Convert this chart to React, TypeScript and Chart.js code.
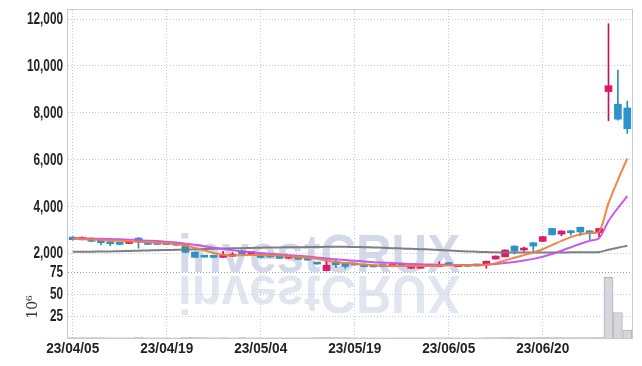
import React, { useEffect, useRef } from 'react';
import { Chart, registerables } from 'chart.js';
Chart.register(...registerables);

const dates = [
  '23/04/05','23/04/06','23/04/07','23/04/10','23/04/11','23/04/12','23/04/13','23/04/14','23/04/17','23/04/18',
  '23/04/19','23/04/20','23/04/21','23/04/24','23/04/25','23/04/26','23/04/27','23/04/28','23/05/02','23/05/03',
  '23/05/04','23/05/08','23/05/09','23/05/10','23/05/11','23/05/12','23/05/15','23/05/16','23/05/17','23/05/18',
  '23/05/19','23/05/22','23/05/23','23/05/24','23/05/25','23/05/26','23/05/30','23/05/31','23/06/01','23/06/02',
  '23/06/05','23/06/07','23/06/08','23/06/09','23/06/12','23/06/13','23/06/14','23/06/15','23/06/16','23/06/19',
  '23/06/20','23/06/21','23/06/22','23/06/23','23/06/26','23/06/27','23/06/28','23/06/29','23/06/30','23/07/03',
];

const opens = [
  2680,2580,2630,2550,2480,2440,2410,2640,2440,2420,
  2400,2390,2290,2040,1855,1870,1815,1865,2085,1970,
  1915,1900,1870,1780,1765,1760,1565,1250,1645,1590,
  1515,1520,1450,1445,1425,1520,1350,1350,1425,1420,
  1590,1420,1455,1510,1520,1745,1840,2300,2130,2440,
  2500,3050,2810,2950,3100,2950,2870,8900,8360,8200,
];
const highs = [
  2700,2690,2640,2560,2490,2450,2490,2660,2450,2430,
  2410,2400,2330,2050,1860,1880,2070,2020,2100,2060,
  1930,1910,1880,1850,1770,1770,1570,1750,1715,1600,
  1530,1530,1460,1450,1460,1530,1460,1460,1450,1630,
  1600,1510,1460,1520,1660,1880,2140,2310,2260,2450,
  2710,3060,2950,2960,3110,2960,3060,11800,9820,8490,
];
const lows = [
  2550,2560,2480,2350,2310,2350,2400,2210,2360,2360,
  2350,2320,2010,1800,1820,1800,1810,1850,1960,1960,
  1800,1820,1760,1770,1720,1690,1520,1235,1390,1350,
  1480,1410,1400,1410,1420,1440,1345,1345,1420,1415,
  1480,1415,1420,1440,1345,1740,1835,1960,2080,2040,
  2490,2770,2740,2760,2740,2580,2700,7650,7680,7110,
];
const closes = [
  2570,2660,2500,2440,2400,2370,2470,2470,2370,2370,
  2360,2340,2030,1815,1825,1815,1885,1895,1970,2040,
  1815,1830,1770,1840,1730,1700,1530,1480,1500,1430,
  1490,1420,1410,1420,1455,1450,1450,1450,1445,1510,
  1490,1500,1430,1450,1650,1870,2130,2085,2165,2300,
  2700,2780,2940,2870,2900,2840,3050,9150,7720,7310,
];
const volumes = [
  0.6,0.4,0.5,0.4,0.3,0.3,0.3,0.7,0.3,0.2,
  0.2,0.2,0.8,0.9,0.4,0.3,0.5,0.3,0.4,0.3,
  0.3,0.2,0.3,0.2,0.2,0.2,0.4,0.8,0.5,0.4,
  0.2,0.2,0.2,0.1,0.1,0.2,0.2,0.2,0.1,0.3,
  0.2,0.2,0.1,0.1,0.5,0.6,0.9,0.7,0.4,0.6,
  0.9,1.1,0.6,0.5,0.6,0.5,0.8,69,29,9,
];
const ma5 = [
  2600,2590,2575,2560,2540,2520,2500,2480,2460,2440,
  2420,2390,2320,2220,2110,2000,1930,1900,1910,1920,
  1920,1910,1890,1860,1830,1800,1750,1680,1620,1570,
  1540,1510,1480,1460,1450,1445,1445,1445,1450,1460,
  1470,1480,1480,1480,1500,1570,1680,1800,1910,2020,
  2160,2340,2520,2680,2800,2860,2910,4130,5120,6040,
];
const ma10 = [
  2640,2630,2620,2610,2600,2585,2570,2555,2530,2510,
  2480,2450,2400,2350,2290,2230,2170,2120,2080,2040,
  2000,1970,1940,1910,1880,1850,1810,1770,1730,1700,
  1670,1640,1610,1590,1570,1550,1530,1520,1510,1500,
  1495,1490,1490,1490,1500,1530,1570,1620,1680,1750,
  1840,1960,2100,2250,2400,2520,2640,3370,3925,4430,
];
const ma60 = [
  2050,2055,2060,2065,2070,2080,2090,2100,2110,2120,
  2130,2140,2150,2160,2170,2180,2190,2200,2210,2220,
  2230,2235,2240,2245,2250,2255,2260,2265,2265,2265,
  2260,2250,2240,2225,2210,2195,2180,2165,2150,2130,
  2110,2090,2070,2055,2040,2030,2025,2020,2020,2020,
  2020,2025,2025,2030,2030,2035,2040,2140,2230,2310,
];
const priceTicks = [2000, 4000, 6000, 8000, 10000, 12000];
const volumeTicks = [25, 50, 75];
const dateTickEvery = 10;

const UP = '#e2176b';
const DOWN = '#2a94c8';
const UP_WICK = '#c4125c';
const DOWN_WICK = '#2a8cc0';
const GRID = '#c6cce0';
const LABEL_FONT = '"Liberation Sans", Arial, sans-serif';

function drawNarrow(ctx: any, text: string, x: number, y: number, size: number, sx: number, align: 'right' | 'center') {
  ctx.save();
  ctx.font = `bold ${size}px ${LABEL_FONT}`;
  ctx.fillStyle = '#222';
  ctx.textBaseline = 'middle';
  ctx.textAlign = align;
  ctx.translate(x, y);
  ctx.scale(sx, 1);
  ctx.fillText(text, 0, 0);
  ctx.restore();
}

const framePlugin = {
  id: 'frameWm',
  beforeDatasetsDraw(chart: any) {
    const { ctx, chartArea } = chart;
    const pz = chart.scales.y;
    ctx.save();
    ctx.font = 'bold 54px "Liberation Sans", Arial, sans-serif';
    const text = 'investCRUX';
    const w = ctx.measureText(text).width;
    const baseY = pz.bottom;
    ctx.translate(178, baseY);
    ctx.scale(282 / w, 1);
    ctx.textBaseline = 'alphabetic';
    ctx.fillStyle = 'rgba(200,207,228,0.8)';
    ctx.fillText(text, 0, 0);
    ctx.scale(1, -1);
    ctx.fillStyle = 'rgba(200,207,228,0.55)';
    ctx.fillText(text, 0, -4);
    ctx.restore();

    ctx.save();
    ctx.strokeStyle = '#c8cad4';
    ctx.lineWidth = 1;
    ctx.strokeRect(chartArea.left - 0.5, chartArea.top - 0.5, chartArea.right - chartArea.left + 1, chartArea.bottom - chartArea.top + 1);
    ctx.restore();
  },
  afterDraw(chart: any) {
    const { ctx, chartArea } = chart;
    const py = chart.scales.y;
    const vy = chart.scales.yv;
    const xs = chart.scales.x;
    // measure scale factors
    ctx.save();
    ctx.font = `bold 16px ${LABEL_FONT}`;
    const syk = 36 / ctx.measureText('12,000').width;
    ctx.font = `bold 15px ${LABEL_FONT}`;
    const sxk = 53 / ctx.measureText('23/04/05').width;
    ctx.restore();
    const rightX = chartArea.left - 5;
    priceTicks.forEach((v) => {
      drawNarrow(ctx, v.toLocaleString('en-US'), rightX, py.getPixelForValue(v) + 1, 16, syk, 'right');
    });
    volumeTicks.forEach((v) => {
      drawNarrow(ctx, String(v), rightX, vy.getPixelForValue(v) + 1, 16, syk, 'right');
    });
    dates.forEach((d, i) => {
      if (i % dateTickEvery === 0) {
        drawNarrow(ctx, d, xs.getPixelForValue(i), chartArea.bottom + 11, 15, sxk, 'center');
      }
    });
    ctx.save();
    ctx.translate(33, (vy.top + vy.bottom) / 2 + 2);
    ctx.rotate(-Math.PI / 2);
    ctx.font = '14px "DejaVu Serif", serif';
    ctx.fillStyle = '#333';
    ctx.textAlign = 'center';
    ctx.textBaseline = 'middle';
    ctx.fillText('10⁶', 0, 0);
    ctx.restore();
  },
};

export default function App() {
  const ref = useRef<HTMLCanvasElement>(null);
  useEffect(() => {
    if (!ref.current) return;
    const up = closes.map((c, i) => c >= opens[i]);
    const chart = new Chart(ref.current, {
      type: 'bar',
      data: {
        labels: dates,
        datasets: [
          {
            type: 'line', label: 'MA5', data: ma5, yAxisID: 'y', borderColor: 'rgba(240,128,60,0.95)',
            borderWidth: 2, pointRadius: 0, tension: 0.3, order: 0,
          } as any,
          {
            type: 'line', label: 'MA10', data: ma10, yAxisID: 'y', borderColor: 'rgba(200,80,232,0.95)',
            borderWidth: 2, pointRadius: 0, tension: 0.3, order: 0,
          },
          {
            type: 'line', label: 'MA60', data: ma60, yAxisID: 'y', borderColor: 'rgba(120,120,124,0.95)',
            borderWidth: 2, pointRadius: 0, tension: 0.3, order: 0,
          },
          {
            label: 'wick', data: lows.map((l, i) => [l, highs[i]]), yAxisID: 'y',
            backgroundColor: up.map((u) => (u ? UP_WICK : DOWN_WICK)), barThickness: 1, grouped: false, order: 2,
            borderSkipped: false,
          } as any,
          {
            label: 'body', data: opens.map((o, i) => [o, closes[i]]), yAxisID: 'y',
            backgroundColor: up.map((u) => (u ? UP : DOWN)), barThickness: 7, grouped: false, order: 1,
            borderSkipped: false, minBarLength: 2,
          },
          {
            label: 'volume', data: volumes, yAxisID: 'yv', backgroundColor: 'rgba(214,214,220,1)',
            borderColor: '#b4b4bc', borderWidth: 1, barThickness: 9, grouped: false, order: 3,
          },
        ],
      },
      options: {
        responsive: false,
        animation: false,
        events: [],
        layout: { padding: { top: 10, right: 10, left: 0, bottom: 0 } },
        plugins: { legend: { display: false }, tooltip: { enabled: false } },
        scales: {
          x: {
            offset: true,
            grid: {
              offset: false,
              drawTicks: false,
              color: (c: any) => (c.index % dateTickEvery === 0 ? GRID : 'transparent'),
              borderDash: [1, 2],
            } as any,
            border: { display: false, dash: [1, 2] },
            ticks: { display: false, autoSkip: false },
            afterFit: (s: any) => { s.height = 28; },
          },
          y: {
            type: 'linear', position: 'left', stack: 'main', stackWeight: 262, weight: 2,
            min: 1190, max: 12385,
            grid: { drawTicks: false, color: GRID, borderDash: [1, 2] } as any,
            border: { display: false, dash: [1, 2] },
            afterBuildTicks: (s: any) => { s.ticks = priceTicks.map((v) => ({ value: v })); },
            ticks: { display: false, autoSkip: false },
            afterFit: (s: any) => { s.width = 68; },
          },
          yv: {
            type: 'linear', position: 'left', stack: 'main', stackWeight: 66, weight: 1,
            min: 0, max: 75,
            grid: {
              drawTicks: false,
              color: (c: any) => (c.tick && c.tick.value === 75 ? '#9a9ca6' : GRID),
              borderDash: [1, 2],
            } as any,
            border: { display: false, dash: [1, 2] },
            afterBuildTicks: (s: any) => { s.ticks = volumeTicks.map((v) => ({ value: v })); },
            ticks: { display: false, autoSkip: false },
            afterFit: (s: any) => { s.width = 68; },
          },
        },
      } as any,
      plugins: [framePlugin],
    });
    return () => chart.destroy();
  }, []);
  return (
    <div style={{ position: 'fixed', left: 0, top: 0, width: 642, height: 366, background: '#fff' }}>
      <canvas ref={ref} width={642} height={366} style={{ display: 'block' }} />
    </div>
  );
}
